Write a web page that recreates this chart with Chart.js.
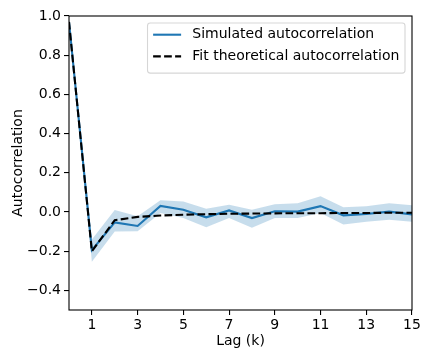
<!DOCTYPE html>
<html>
<head>
<meta charset="utf-8">
<script src="https://cdn.jsdelivr.net/npm/chart.js@4/dist/chart.umd.min.js"></script>
<style>
html,body{margin:0;padding:0;background:#fff;}
#wrap{width:432px;height:360px;}
</style>
</head>
<body>
<div id="wrap"><canvas id="c" width="432" height="360"></canvas></div>
<script>
const lags = [0,1,2,3,4,5,6,7,8,9,10,11,12,13,14,15];
const simulated = [0.97,-0.195,-0.053,-0.071,0.031,0.012,-0.027,0.008,-0.031,0.004,0.002,0.030,-0.017,-0.010,0.002,-0.012];
const bandLower = [0.96,-0.254,-0.100,-0.098,-0.005,-0.030,-0.078,-0.030,-0.080,-0.030,-0.030,-0.005,-0.064,-0.050,-0.040,-0.050];
const bandUpper = [0.98,-0.140,0.010,-0.022,0.060,0.054,0.017,0.037,0.012,0.040,0.045,0.080,0.024,0.029,0.045,0.034];
const theoretical = [0.97,-0.200,-0.042,-0.025,-0.018,-0.014,-0.011,-0.009,-0.008,-0.007,-0.006,-0.006,-0.005,-0.005,-0.004,-0.004];
const xTicks = [1,3,5,7,9,11,13,15];
const yTicks = [-0.4,-0.2,0.0,0.2,0.4,0.6,0.8,1.0];
const labels = {sim:'Simulated autocorrelation', fit:'Fit theoretical autocorrelation', x:'Lag (k)', y:'Autocorrelation'};

const FONT = 'DejaVu Sans';
const pts = arr => lags.map((k,i)=>({x:k,y:arr[i]}));

const framePlugin = {
  id:'frame',
  afterDatasetsDraw(chart){
    const {ctx, chartArea:a} = chart;
    ctx.save();
    ctx.strokeStyle = '#000';
    ctx.lineWidth = 1.1;
    ctx.strokeRect(a.left, a.top, a.right-a.left, a.bottom-a.top);
    ctx.restore();
  }
};

const legendPlugin = {
  id:'mplLegend',
  afterDraw(chart){
    const {ctx, chartArea:a} = chart;
    const fs = 14;
    const items = chart.data.datasets.filter(d=>d.showInLegend);
    ctx.save();
    ctx.font = fs + 'px "' + FONT + '"';
    let tw = 0;
    items.forEach(d=>{ tw = Math.max(tw, ctx.measureText(d.label).width); });
    const padX = 0.4*fs, handle = 2*fs, gap = 0.8*fs;
    const w = padX + handle + gap + tw + padX;
    const rowH = 21.7;
    const h = 0.4*fs*2 + rowH*items.length - 7 + 2.5;
    const right = a.right - 0.5*fs, top = a.top + 0.5*fs;
    const left = right - w;
    const r = 2.8;
    ctx.beginPath();
    ctx.moveTo(left+r, top);
    ctx.lineTo(right-r, top); ctx.arcTo(right, top, right, top+r, r);
    ctx.lineTo(right, top+h-r); ctx.arcTo(right, top+h, right-r, top+h, r);
    ctx.lineTo(left+r, top+h); ctx.arcTo(left, top+h, left, top+h-r, r);
    ctx.lineTo(left, top+r); ctx.arcTo(left, top, left+r, top, r);
    ctx.closePath();
    ctx.fillStyle = 'rgba(255,255,255,0.8)';
    ctx.fill();
    ctx.strokeStyle = 'rgba(204,204,204,0.8)';
    ctx.lineWidth = 1.1;
    ctx.stroke();
    items.forEach((d,i)=>{
      const cy = top + 11.7 + i*rowH;
      ctx.beginPath();
      ctx.setLineDash(d.borderDash || []);
      ctx.strokeStyle = d.borderColor;
      ctx.lineWidth = d.borderWidth;
      ctx.moveTo(left+padX, cy);
      ctx.lineTo(left+padX+handle, cy);
      ctx.stroke();
      ctx.setLineDash([]);
      ctx.fillStyle = '#000';
      ctx.textBaseline = 'middle';
      ctx.textAlign = 'left';
      ctx.fillText(d.label, left+padX+handle+gap, cy);
    });
    ctx.restore();
  }
};

const fmt = v => { const s = Math.abs(v).toFixed(1); return (v < -1e-9 ? '\u2212' : '') + s; };

new Chart(document.getElementById('c'), {
  type:'line',
  data:{
    datasets:[
      {label:'lower', data:pts(bandLower), borderWidth:0, pointRadius:0, fill:false, order:3, tension:0},
      {label:'upper', data:pts(bandUpper), borderWidth:0, pointRadius:0, fill:'-1', backgroundColor:'rgba(31,119,180,0.25)', order:2, tension:0},
      {label:labels.sim, data:pts(simulated), borderColor:'#1f77b4', borderWidth:2.1, pointRadius:0, fill:false, order:1, tension:0, showInLegend:true},
      {label:labels.fit, data:pts(theoretical), borderColor:'#000000', borderWidth:2.1, borderDash:[7.7,3.3], pointRadius:0, fill:false, order:0, tension:0, showInLegend:true}
    ]
  },
  options:{
    responsive:false,
    animation:false,
    devicePixelRatio:1,
    layout:{padding:{left:0,right:20,top:16,bottom:0}},
    plugins:{legend:{display:false}, tooltip:{enabled:false}},
    scales:{
      x:{
        type:'linear', min:0, max:15,
        afterBuildTicks:s=>{ s.ticks = xTicks.map(v=>({value:v})); },
        afterFit:s=>{ s.height = 50; },
        grid:{drawOnChartArea:false, drawTicks:true, tickLength:5, color:'#000', lineWidth:1.1},
        border:{display:false},
        ticks:{color:'#000', font:{family:FONT, size:14}, padding:2, maxRotation:0, autoSkip:false, callback:v=>String(v)},
        title:{display:true, text:labels.x, color:'#000', font:{family:FONT, size:14}, padding:{top:0,bottom:10}}
      },
      y:{
        type:'linear', min:-0.5, max:1.0,
        afterBuildTicks:s=>{ s.ticks = yTicks.map(v=>({value:v})); },
        afterFit:s=>{ s.width = 69; },
        grid:{drawOnChartArea:false, drawTicks:true, tickLength:5, color:'#000', lineWidth:1.1},
        border:{display:false},
        ticks:{color:'#000', font:{family:FONT, size:14}, padding:3, autoSkip:false, callback:v=>fmt(v)},
        title:{display:true, text:labels.y, color:'#000', font:{family:FONT, size:14}, padding:{top:10,bottom:0}}
      }
    }
  },
  plugins:[framePlugin, legendPlugin]
});
</script>
</body>
</html>
